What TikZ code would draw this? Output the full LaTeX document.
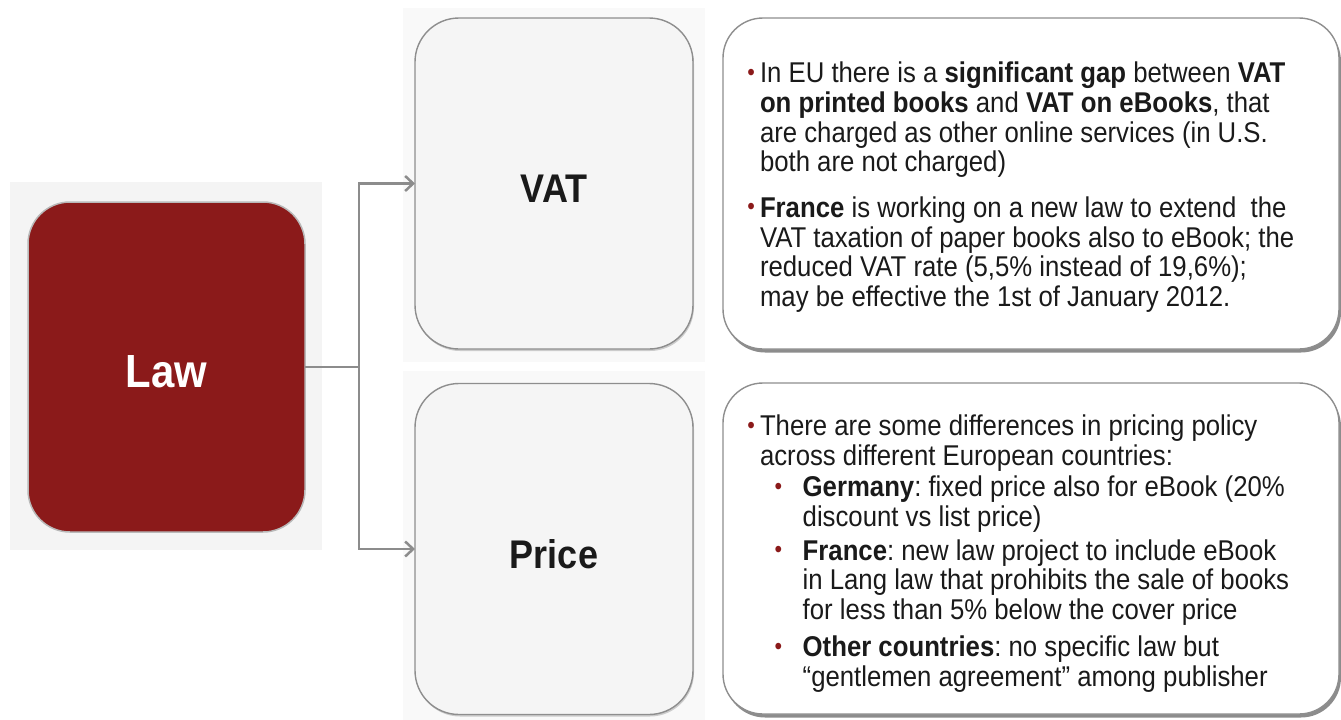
\documentclass[tikz,border=0pt]{standalone}
\usepackage{fontspec}
\setmainfont{Liberation Sans}[FakeStretch=0.9]
\usetikzlibrary{arrows.meta,shadows}
\definecolor{lawred}{HTML}{8B1A1A}
\definecolor{bulred}{HTML}{8B1A1A}
\definecolor{boxgray}{HTML}{F5F5F5}
\definecolor{edgegray}{HTML}{8E8E8E}
\definecolor{conngray}{HTML}{8C8C8C}
\definecolor{txt}{HTML}{1A1A1A}
\definecolor{backdropa}{HTML}{F4F4F4}
\definecolor{backdropb}{HTML}{F9F9F9}
\newcommand{\mbul}{\leavevmode\llap{\textcolor{bulred}{\fontsize{24}{24}\selectfont\raisebox{2.5pt}{•}}\hspace{5.1pt}}}
\newcommand{\sbul}{\leavevmode\llap{\textcolor{bulred}{\fontsize{24}{24}\selectfont\raisebox{2.5pt}{•}}\hspace{20.5pt}}}
\begin{document}
\begin{tikzpicture}[x=1pt,y=-1pt,
  every node/.style={inner sep=0pt, outer sep=0pt},
  backdrop/.style={fill=#1, draw=none},
  lawbox/.style={rectangle, rounded corners=42pt, fill=lawred, draw=gray!55, line width=1.5pt,
     text=white, font=\fontsize{46.5}{46.5}\selectfont\bfseries,
     minimum width=277, minimum height=330, text height=40.7pt, text depth=0pt},
  topicbox/.style={rectangle, rounded corners=44pt, fill=boxgray, draw=edgegray, line width=1.4pt,
     drop shadow={shadow xshift=1pt, shadow yshift=-2pt, fill=black, opacity=0.18},
     text=txt, font=\fontsize{40}{40}\selectfont\bfseries,
     minimum width=278, minimum height=331, text height=38pt, text depth=0pt},
  infobox/.style={rectangle, rounded corners=40pt, fill=white, draw=edgegray, line width=1.4pt,
     drop shadow={shadow xshift=2pt, shadow yshift=-3.5pt, fill=black, opacity=0.45},
     minimum width=616, minimum height=331},
  para/.style={anchor=base west, text=txt, font=\fontsize{28.6}{29.8}\selectfont\frenchspacing},
  conn/.style={draw=conngray, line width=2.5pt},
  arrowconn/.style={conn, -{Straight Barb[length=8pt,width=15pt,line width=2.5pt]}}
]
\useasboundingbox (0,0) rectangle (1341,720);
\fill[white] (0,0) rectangle (1341,720);

% faint backdrops
\fill[backdrop=backdropa] (10,182) rectangle (322,550);
\fill[backdrop=backdropb] (403,8) rectangle (705,362);
\fill[backdrop=backdropb] (403,371) rectangle (705,720);

% main boxes
\node[lawbox] (law) at (166.5,367) {Law};
\node[topicbox] (vat) at (554,183.5) {VAT};
\node[topicbox] (price) at (554,549) {Price};
\node[infobox] (vatinfo) at (1031,183.5) {};
\node[infobox] (priceinfo) at (1031,548.5) {};

% connectors
\coordinate (split) at (359,367);
\draw[conn] (law.east) -- (split);
\draw[arrowconn] (split) |- (vat.west);
\draw[arrowconn] (split) |- (price.west);

% VAT text
\node[para] (v1) at (760,82.5) {\parbox[t]{600pt}{\mbul In EU there is a \textbf{significant gap} between \textbf{VAT}\\
\textbf{on printed books} and \textbf{VAT on eBooks}, that\\
are charged as other online services (in U.S.\\
both are not charged)}};
\node[para] (v2) at (760,217.3) {\parbox[t]{600pt}{\mbul\textbf{France} is working on a new law to extend\ \ the\\
VAT taxation of paper books also to eBook; the\\
reduced VAT rate (5,5\% instead of 19,6\%);\\
may be effective the 1st of January 2012.}};

% Price text
\node[para] (p1) at (760,435.7) {\parbox[t]{600pt}{\mbul There are some differences in pricing policy\\
across different European countries:}};
\node[para] (p2) at (802.7,496.7) {\parbox[t]{560pt}{\sbul\textbf{Germany}: fixed price also for eBook (20\%\\
discount vs list price)}};
\node[para] (p3) at (802.7,560) {\parbox[t]{560pt}{\sbul\textbf{France}: new law project to include eBook\\
in Lang law that prohibits the sale of books\\
for less than 5\% below the cover price}};
\node[para] (p4) at (802.7,656.7) {\parbox[t]{560pt}{\sbul\textbf{Other countries}: no specific law but\\
“gentlemen agreement” among publisher}};
\end{tikzpicture}
\end{document}
